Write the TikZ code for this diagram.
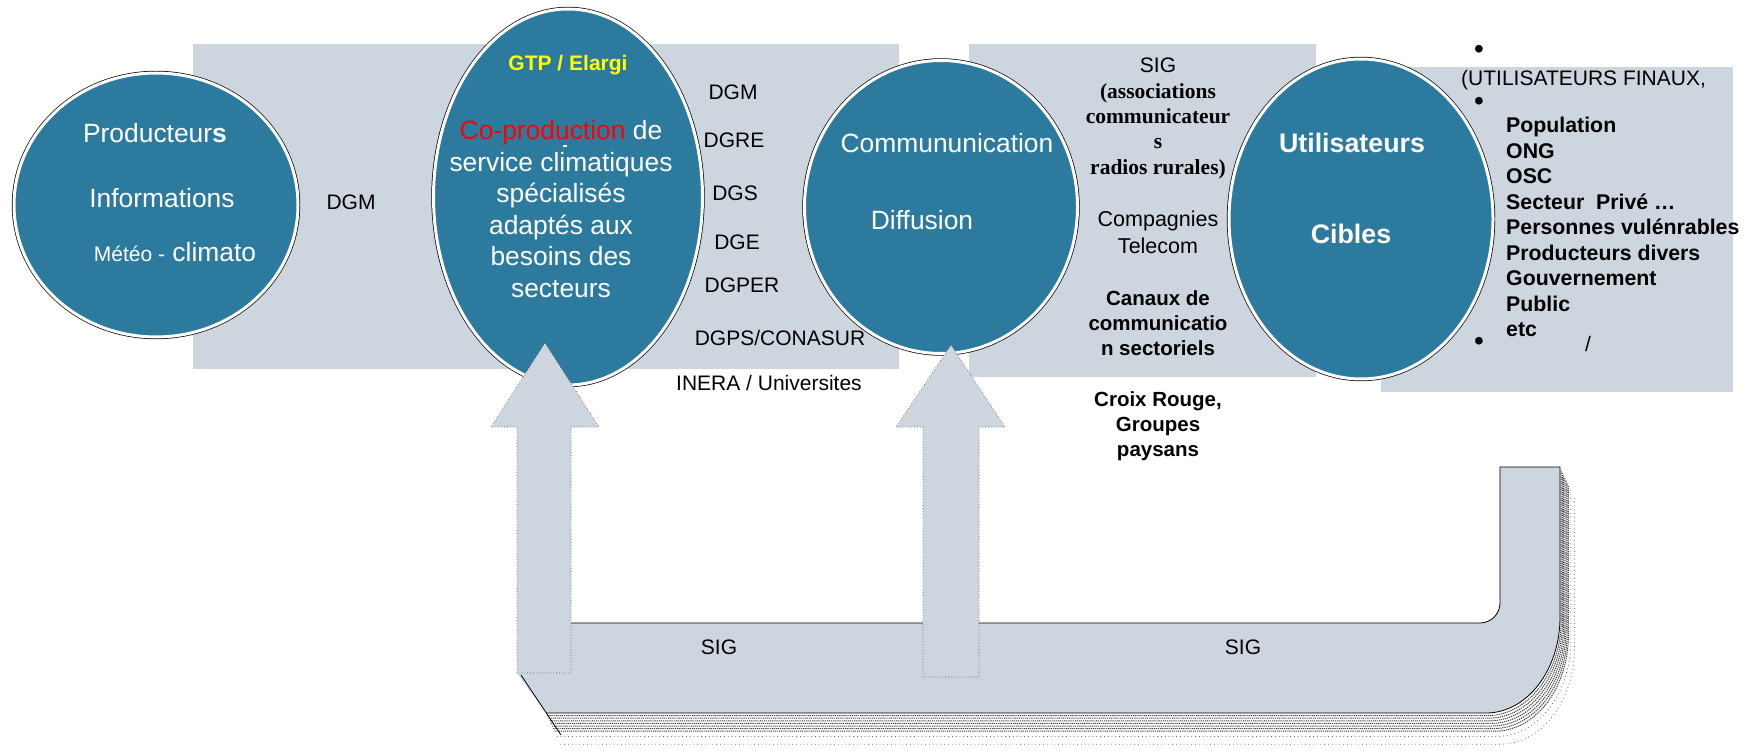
\documentclass[tikz,border=0pt]{standalone}
\usepackage{fontspec}
\setmainfont{Liberation Sans}
\newfontfamily\timesbf{Liberation Serif}
\usetikzlibrary{shapes.geometric}
\definecolor{DeepTeal}{HTML}{2C7B9E}
\definecolor{PaleSlate}{HTML}{CDD6DF}
\definecolor{LabelYellow}{HTML}{FFFF00}
\newcommand\fsz[2]{\fontsize{#1pt}{#2pt}\selectfont}

\begin{document}
\begin{tikzpicture}[
    x=1pt, y=-1pt,
    every node/.style={inner sep=0pt},
    bubble/.style={ellipse, fill=DeepTeal, draw=white, line width=3pt,
        preaction={draw=black, line width=4.4pt}},
    panel/.style={fill=PaleSlate},
    upshaft/.style={fill=PaleSlate, draw=black!70, line width=0.6pt, dash pattern=on 0.7pt off 2.2pt},
    lbl/.style={font=\fsz{21}{25}},
    inlbl/.style={text=white, font=\fsz{26.4}{31.6}},
    puce/.style={font=\fsz{28}{30}},
]
\fill[white] (0,0) rectangle (1756,751);
\useasboundingbox (0,0) rectangle (1756,751);

% bandeaux de fond
\fill[panel] (193,44) rectangle (899,369);
\fill[panel] (969,44) rectangle (1316,377);
\fill[panel] (1381,67) rectangle (1733,392);

% les quatre poles
\node[bubble, minimum width=284pt, minimum height=264pt] (prod) at (156,205) {};
\node[bubble, minimum width=269pt, minimum height=376pt] (copro) at (568,197) {};
\node[bubble, minimum width=273pt, minimum height=293pt] (comm) at (941,207) {};
\node[bubble, minimum width=264pt, minimum height=320pt] (users) at (1361,219) {};

% ---- Producteurs ----
\node[inlbl] (prodA) at (155,133) {Producteur\textbf{s}};
\node[inlbl] (prodB) at (162,198) {Informations};
\node[inlbl] (prodC) at (175,252) {{\fsz{21}{25}Météo -} climato};
\node[lbl] (dgmA) at (351,202) {DGM};

% ---- Co-production ----
\node[font=\bfseries\fsz{21}{25}, text=LabelYellow] (gtp) at (568,65) {GTP / Elargi};
\node[inlbl, align=center] (coprotxt) at (561,209)
    {\textcolor{red}{Co-production} de\\service climatiques\\spécialisés\\adaptés aux\\besoins des\\secteurs};
% petit trait blanc entre les deux premieres lignes
\draw[white, line width=1.3pt] (563,146) -- (567,146);

\node[lbl] (dgmB) at (733,92) {DGM};
\node[lbl] (dgre) at (734,140) {DGRE};
\node[lbl] (dgs) at (735,193) {DGS};
\node[lbl] (dge) at (737,242) {DGE};
\node[lbl] (dgper) at (742,285) {DGPER};
\node[lbl] (dgps) at (780,338) {DGPS/CONASUR};
\node[lbl] (inera) at (769,383) {INERA / Universites};

% ---- Communication ----
\node[inlbl] (commA) at (947,143) {Commununication};
\node[inlbl] (commB) at (922,220) {Diffusion};

\node[lbl] (sigA) at (1158,65) {SIG};
\node[font=\timesbf\bfseries\fsz{21.5}{25.3}, align=center] (assoc) at (1158,131)
    {(associations\\communicateur\\s\\radios rurales)};
\node[font=\fsz{21.5}{27}, align=center] (telco) at (1158,232) {Compagnies\\Telecom};
\node[font=\bfseries\fsz{20.5}{25}, align=center] (canaux) at (1158,323)
    {Canaux de\\communicatio\\n sectoriels};
\node[font=\bfseries\fsz{20.5}{25}, align=center] (croix) at (1158,426)
    {Croix Rouge,\\Groupes\\paysans};

% ---- Utilisateurs ----
\node[inlbl, font=\bfseries\fsz{26.8}{30}] (usersA) at (1352,143) {Utilisateurs};
\node[inlbl, font=\bfseries\fsz{26.8}{30}] (usersB) at (1351,234) {Cibles};

\node[puce] (puceA) at (1479,52) {•};
\node[lbl, anchor=west] (finaux) at (1461,80) {(UTILISATEURS FINAUX,};
\node[puce] (puceB) at (1479,104) {•};
\node[font=\bfseries\fsz{21.3}{25.5}, anchor=west, align=left] (publics) at (1506,227)
    {Population\\ONG\\OSC\\Secteur\ \ Privé …\\Personnes vulénrables\\Producteurs divers\\Gouvernement\\Public\\etc};
\node[puce] (puceC) at (1479,344) {•};
\node[lbl] (barre) at (1588,344) {/};

% ---- retour SIG ----
% ombre hachuree sous le bandeau
\foreach \s in {2,4,...,14}
    \draw[black!75, line width=1pt, dash pattern=on 1.2pt off 0.9pt, shift={(0.6*\s,1.3*\s)}]
        (546,713) -- (1486,713) .. controls (1527,713) and (1560,670) .. (1560,617) -- (1560,467);
\foreach \s in {18,24}
    \draw[black!60, line width=0.8pt, dash pattern=on 0.8pt off 3pt, shift={(0.6*\s,1.3*\s)}]
        (546,713) -- (1486,713) .. controls (1527,713) and (1560,670) .. (1560,617) -- (1560,467);
\fill[panel] (517,623) -- (1480,623) .. controls (1491,623) and (1500,614) .. (1500,603)
    -- (1500,467) -- (1560,467) -- (1560,617) .. controls (1560,670) and (1527,713) .. (1486,713)
    -- (546,713) -- (517,673) -- cycle;
\draw[line width=0.8pt] (521,675) -- (561,735);
\draw[line width=0.8pt] (546,713) -- (1486,713) .. controls (1527,713) and (1560,670) .. (1560,617)
    -- (1560,467) -- (1500,467) -- (1500,603) .. controls (1500,614) and (1491,623) .. (1480,623)
    -- (571,623);

\draw[upshaft] (517,673) -- (517,427) -- (491,427) -- (545,343) -- (599,427) -- (571,427) -- (571,673) -- cycle;
\draw[upshaft] (923,677) -- (923,427) -- (896,427) -- (951,345) -- (1005,427) -- (979,427) -- (979,677) -- cycle;

\node[lbl] (sigB) at (719,647) {SIG};
\node[lbl] (sigC) at (1243,647) {SIG};

\end{tikzpicture}
\end{document}
